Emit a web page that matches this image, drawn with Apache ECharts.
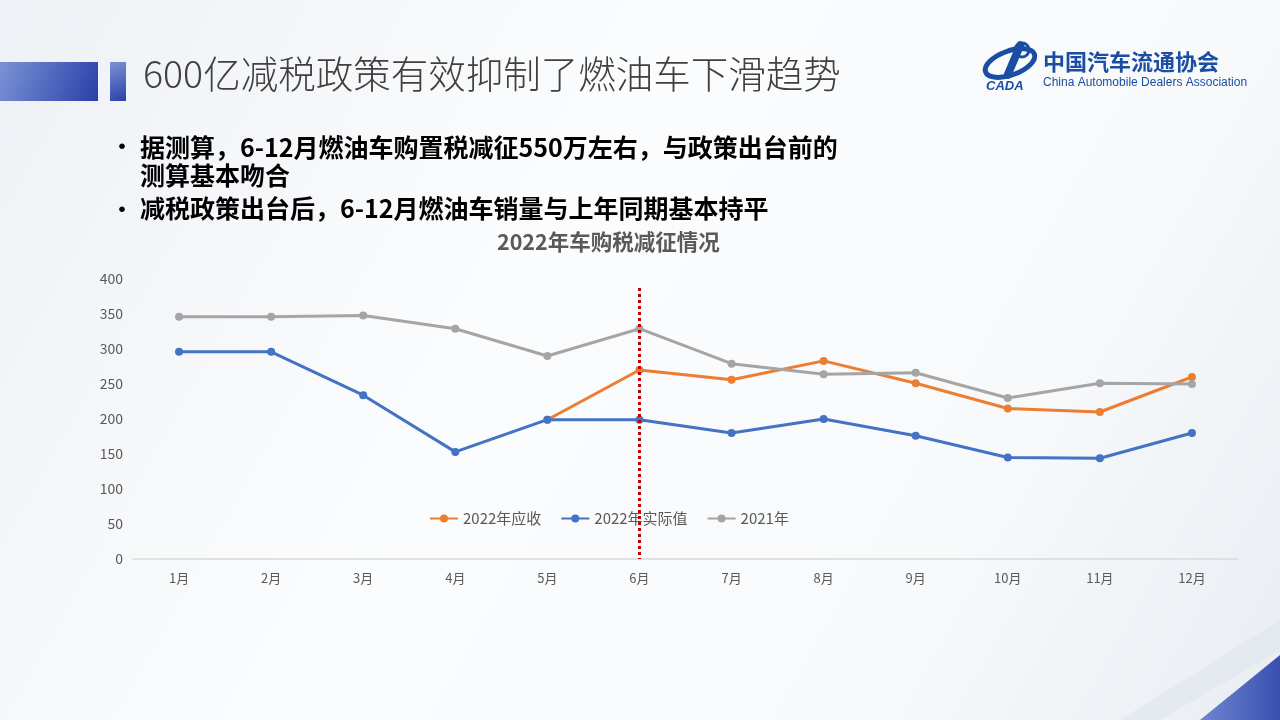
<!DOCTYPE html>
<html><head><meta charset="utf-8">
<script src="https://cdn.jsdelivr.net/npm/echarts@6/dist/echarts.min.js"></script>
<style>html,body{margin:0;padding:0;}#c{width:1280px;height:720px;}</style>
</head><body><div id="c"></div>
<script>
const months = ['1月','2月','3月','4月','5月','6月','7月','8月','9月','10月','11月','12月'];
const due2022 = [null,null,null,null,199,270,256,283,251,215,210,260];
const actual2022 = [296,296,234,153,199,199,180,200,176,145,144,180];
const y2021 = [346,346,348,329,290,329,279,264,266,230,251,250];
const seriesNames = ['2022年应收','2022年实际值','2021年'];
const yTicks = {min:0, max:400, interval:50};
const markMonth = '6月';
const markTop = 387;

const chart = echarts.init(document.getElementById('c'));
const font = '"Noto Sans CJK SC","Noto Sans",sans-serif';
chart.setOption({
  backgroundColor: {type:'linear',x:0,y:0,x2:1,y2:1,colorStops:[{offset:0,color:'#eef1f5'},{offset:0.4,color:'#fbfcfd'},{offset:0.75,color:'#f7f9fb'},{offset:1,color:'#e9edf2'}]},
  textStyle:{fontFamily:font},
  graphic:[
    {type:'rect',shape:{x:0,y:62,width:98,height:39},style:{fill:{type:'linear',x:0,y:0,x2:1,y2:1,colorStops:[{offset:0,color:'#7b93d6'},{offset:1,color:'#2b3fa8'}]}}},
    {type:'rect',shape:{x:110,y:62,width:16,height:39},style:{fill:{type:'linear',x:0,y:0,x2:1,y2:1,colorStops:[{offset:0,color:'#7b93d6'},{offset:1,color:'#2b3fa8'}]}}},
    {type:'text',left:143,top:55,style:{text:'600亿减税政策有效抑制了燃油车下滑趋势',fill:'#404040',font:'300 37.5px '+font}},
    {type:'text',left:111,top:135,style:{text:'•',fill:'#000',font:'bold 22px '+font}},
    {type:'text',left:140,top:133,style:{text:'据测算，6-12月燃油车购置税减征550万左右，与政策出台前的\n测算基本吻合',fill:'#000',font:'bold 25px '+font,lineHeight:28}},
    {type:'text',left:111,top:198,style:{text:'•',fill:'#000',font:'bold 22px '+font}},
    {type:'text',left:140,top:196,style:{text:'减税政策出台后，6-12月燃油车销量与上年同期基本持平',fill:'#000',font:'bold 25px '+font}},
    {type:'text',left:497,top:231,style:{text:'2022年车购税减征情况',fill:'#595959',font:'bold 21.5px '+font}},
    // logo
    {type:'ellipse',shape:{cx:1010,cy:63,rx:26,ry:12},rotation:0.35,originX:1010,originY:63,style:{fill:'none',stroke:'#1b4ea3',lineWidth:5}},
    {type:'rect',shape:{x:1010,y:40,width:8,height:40,r:4},rotation:-0.4,originX:1014,originY:60,style:{fill:'#1b4ea3'}},
    {type:'circle',shape:{cx:1022,cy:50,r:7},style:{fill:'none',stroke:'#1b4ea3',lineWidth:3}},
    {type:'text',left:986,top:80,style:{text:'CADA',fill:'#1b4ea3',font:'italic bold 13px Arial'}},
    {type:'text',left:1043,top:51,style:{text:'中国汽车流通协会',fill:'#1b4ea3',font:'bold 22px "Noto Sans CJK SC"'}},
    {type:'text',left:1043,top:77,style:{text:'China Automobile Dealers Association',fill:'#1b4ea3',font:'12px Arial'}},
    // bottom right stripe
    {type:'polygon',shape:{points:[[1200,720],[1280,655],[1280,720]]},style:{fill:{type:'linear',x:0,y:0,x2:1,y2:0,colorStops:[{offset:0,color:'#6f86d0'},{offset:1,color:'#3a4fb0'}]}}},
    {type:'polygon',shape:{points:[[1120,720],[1280,620],[1280,650],[1160,720]]},style:{fill:'rgba(220,226,234,0.45)'}}
  ],
  grid:{left:133,right:42,top:279,bottom:161},
  legend:{
    data:seriesNames, left:424, top:506, itemWidth:28, itemHeight:10, itemGap:19,
    textStyle:{color:'#595959',fontSize:15},
  },
  xAxis:{type:'category',data:months,boundaryGap:true,
    axisLine:{lineStyle:{color:'#d9d9d9',width:1.5}},axisTick:{show:false},
    axisLabel:{color:'#595959',fontSize:13,margin:13}},
  yAxis:{type:'value',min:yTicks.min,max:yTicks.max,interval:yTicks.interval,
    axisLine:{show:false},axisTick:{show:false},splitLine:{show:false},
    axisLabel:{color:'#595959',fontSize:14,margin:10}},
  series:[
    {name:seriesNames[0],type:'line',data:due2022,symbol:'circle',symbolSize:8,
      itemStyle:{color:'#ed7d31'},lineStyle:{width:3,color:'#ed7d31'}},
    {name:seriesNames[1],type:'line',data:actual2022,symbol:'circle',symbolSize:8,
      itemStyle:{color:'#4472c4'},lineStyle:{width:3,color:'#4472c4'}},
    {name:seriesNames[2],type:'line',data:y2021,symbol:'circle',symbolSize:8,
      itemStyle:{color:'#a5a5a5'},lineStyle:{width:3,color:'#a5a5a5'},
      markLine:{silent:true,symbol:'none',label:{show:false},z:10,
        lineStyle:{color:'#c00000',type:[3,3],width:3},
        data:[[{coord:[markMonth,markTop]},{coord:[markMonth,0]}]]}}
  ]
});
</script></body></html>
